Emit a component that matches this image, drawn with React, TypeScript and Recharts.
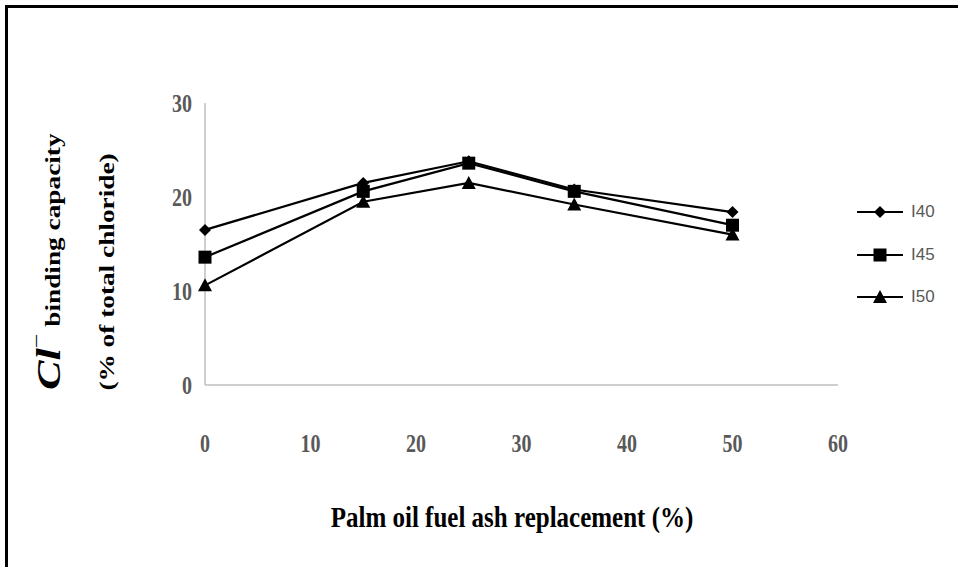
import React from "react";
import { LineChart, Line, XAxis, YAxis, Legend } from "recharts";

// Palm oil fuel ash replacement (%)
const replacement = [0, 15, 25, 35, 50];
// chloride binding capacity (% of total chloride)
const i40 = [16.5, 21.5, 23.8, 20.8, 18.4];
const i45 = [13.6, 20.6, 23.6, 20.6, 17.0];
const i50 = [10.6, 19.5, 21.5, 19.2, 16.0];

const seriesNames = ["I40", "I45", "I50"];
const xTicks = [0, 10, 20, 30, 40, 50, 60];
const yTicks = [0, 10, 20, 30];

const data = replacement.map((r, i) => ({ r, I40: i40[i], I45: i45[i], I50: i50[i] }));

const serif = "'Liberation Serif', 'Times New Roman', serif";
const tickGray = "#595959";
const axisGray = "#bfbfbf";
// the source figure is stretched vertically, so the text is drawn taller than wide
const stretch = 1.3;

function Diamond({ cx, cy }: any) {
  if (cx == null || cy == null) return null;
  return <path d={`M${cx},${cy - 6}L${cx + 6},${cy}L${cx},${cy + 6}L${cx - 6},${cy}Z`} fill="#000" />;
}

function Square({ cx, cy }: any) {
  if (cx == null || cy == null) return null;
  return <rect x={cx - 6.5} y={cy - 6.5} width={13} height={13} fill="#000" />;
}

function Triangle({ cx, cy }: any) {
  if (cx == null || cy == null) return null;
  return <path d={`M${cx},${cy - 7}L${cx + 7},${cy + 6}L${cx - 7},${cy + 6}Z`} fill="#000" />;
}

const markers: Record<string, (p: any) => React.ReactElement | null> = {
  I40: Diamond,
  I45: Square,
  I50: Triangle,
};

function YTick({ x, y, payload }: any) {
  return (
    <g transform={`translate(${x},${y}) scale(1,${stretch})`}>
      <text dy="0.35em" textAnchor="end" fontFamily={serif} fontSize={20} fontWeight="bold" fill={tickGray}>
        {payload.value}
      </text>
    </g>
  );
}

function XTick({ x, y, payload }: any) {
  return (
    <g transform={`translate(${x},${y}) scale(1,${stretch})`}>
      <text dy="0.35em" textAnchor="middle" fontFamily={serif} fontSize={20} fontWeight="bold" fill={tickGray}>
        {payload.value}
      </text>
    </g>
  );
}

function LegendBox() {
  return (
    <div>
      {seriesNames.map((name) => {
        const M = markers[name];
        return (
          <div key={name} style={{ display: "flex", alignItems: "center", height: 42.5 }}>
            <svg width={50} height={20}>
              <line x1={2} y1={10} x2={48} y2={10} stroke="#000" strokeWidth={2} />
              <M cx={25} cy={10} />
            </svg>
            <span style={{ fontFamily: "'Liberation Sans', sans-serif", fontSize: 17, color: tickGray, marginLeft: 6 }}>
              {name}
            </span>
          </div>
        );
      })}
    </div>
  );
}

function YTitle() {
  return (
    <g>
      <g transform={`translate(60,390) scale(1,${stretch}) rotate(-90)`}>
        <text textAnchor="start" fontFamily={serif} fill="#000">
          <tspan fontSize={34} fontStyle="italic" fontWeight="bold">Cl</tspan>
          <tspan fontSize={20} dy={-17}>−</tspan>
          <tspan fontSize={21} fontWeight="bold" dy={17}> binding capacity</tspan>
        </text>
      </g>
      <g transform={`translate(114,272) scale(1,${stretch}) rotate(-90)`}>
        <text textAnchor="middle" fontFamily={serif} fontSize={21} fontWeight="bold" fill="#000">
          (% of total chloride)
        </text>
      </g>
    </g>
  );
}

function XTitle() {
  return (
    <g transform={`translate(512,517) scale(1,1.2)`}>
      <text dy="0.33em" textAnchor="middle" fontFamily={serif} fontSize={25} fontWeight="bold" fill="#000">
        Palm oil fuel ash replacement (%)
      </text>
    </g>
  );
}

export default function App() {
  return (
    <div style={{ position: "absolute", left: 0, top: 0, width: 958, height: 567, background: "#fff" }}>
      <div
        style={{
          position: "absolute",
          left: 5,
          top: 5,
          width: 953,
          height: 562,
          borderLeft: "3px solid #000",
          borderTop: "3px solid #000",
          boxSizing: "border-box",
        }}
      />
      <LineChart width={958} height={567} data={data} margin={{ top: 103, right: 120, bottom: 122, left: 145 }}>
        <XAxis
          dataKey="r"
          type="number"
          domain={[0, 60]}
          ticks={xTicks}
          interval={0}
          height={60}
          tickLine={false}
          tickMargin={52}
          axisLine={{ stroke: axisGray, strokeWidth: 1.5 }}
          tick={<XTick />}
          label={{ content: () => <XTitle /> }}
        />
        <YAxis
          type="number"
          domain={[0, 30]}
          ticks={yTicks}
          interval={0}
          width={60}
          tickLine={false}
          tickMargin={7}
          axisLine={{ stroke: axisGray, strokeWidth: 1.5 }}
          tick={<YTick />}
          label={{ content: () => <YTitle /> }}
        />
        <Legend
          layout="horizontal"
          align="center"
          verticalAlign="middle"
          width={100}
          wrapperStyle={{ left: 855, top: 191, width: 100 }}
          content={() => <LegendBox />}
        />
        {seriesNames.map((name) => (
          <Line
            key={name}
            dataKey={name}
            name={name}
            stroke="#000"
            strokeWidth={2.2}
            dot={markers[name]}
            activeDot={false}
            isAnimationActive={false}
          />
        ))}
      </LineChart>
    </div>
  );
}
